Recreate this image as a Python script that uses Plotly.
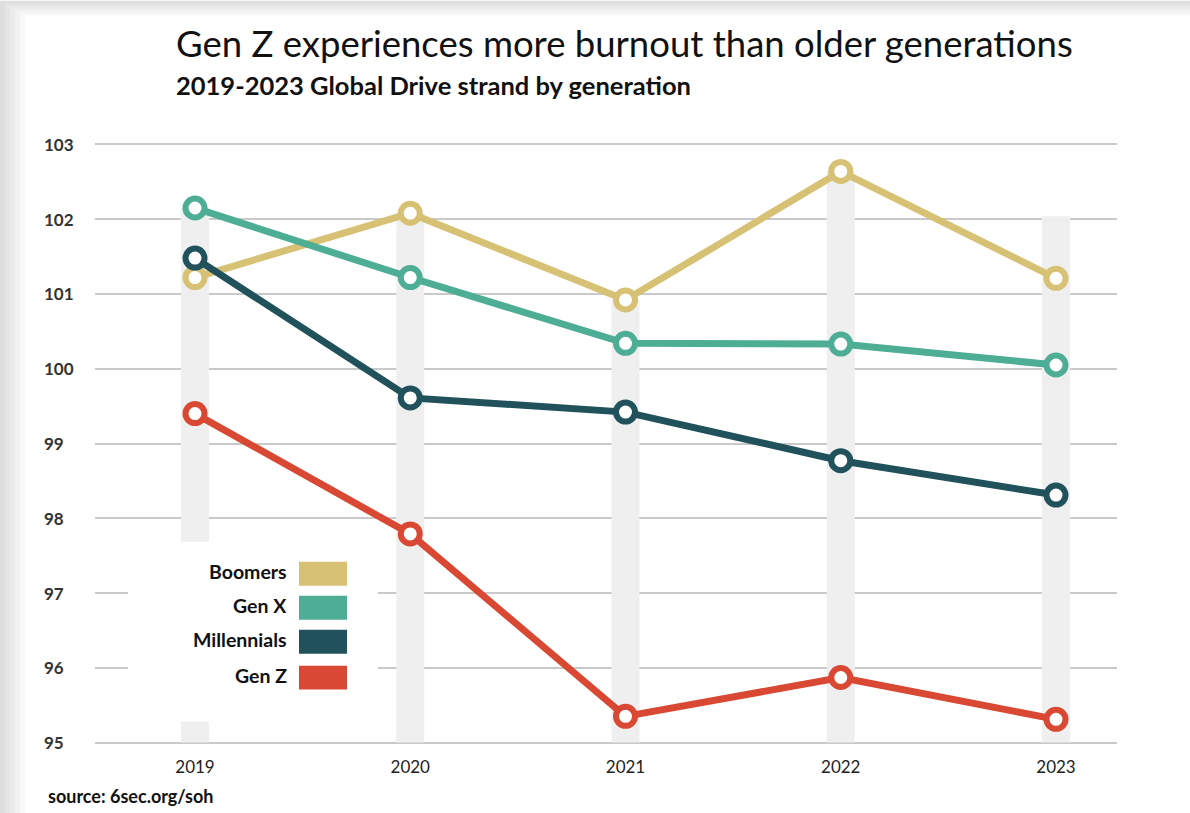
import plotly.graph_objects as go

years = [2019, 2020, 2021, 2022, 2023]
series_names = ["Boomers", "Gen X", "Millennials", "Gen Z"]
boomers = [101.22, 102.08, 100.92, 102.64, 101.21]
gen_x = [102.15, 101.22, 100.34, 100.33, 100.05]
millennials = [101.48, 99.61, 99.42, 98.77, 98.31]
gen_z = [99.40, 97.79, 95.35, 95.87, 95.31]
band_top = [102.15, 102.08, 100.92, 102.64, 102.04]
band_base = [95, 95, 95, 95, 95]
y_ticks = [95, 96, 97, 98, 99, 100, 101, 102, 103]
colors = ["#d7c174", "#4ead95", "#21525c", "#d84832"]

W, H = 1190, 813
Y_LO, Y_HI = 94.9, 103.1
k = (743 - 144) / 8.0
T = 144 - (Y_HI - 103) * k
B = H - (743 + (95 - Y_LO) * k)
L, R = 95, 73
pw, ph = W - L - R, H - T - B


def px_x(p):
    return (p - L) / pw


def px_y(p):
    return (H - B - p) / ph


fig = go.Figure()

# background bands
fig.add_trace(go.Bar(
    x=years, y=[t - b for t, b in zip(band_top, band_base)], base=band_base,
    width=0.13, marker=dict(color="#efefef", line=dict(width=0)),
    showlegend=False, hoverinfo="skip"))

for name, vals, c in zip(series_names, [boomers, gen_x, millennials, gen_z], colors):
    fig.add_trace(go.Scatter(
        x=years, y=vals, name=name, mode="lines+markers",
        line=dict(color=c, width=7),
        marker=dict(size=19, color="white", line=dict(color=c, width=6)),
        showlegend=False))

shapes = []
# card shadow edges
shade = ["#dedede", "#e5e5e5", "#ebebeb", "#f2f2f2", "#f8f8f8"]
for i, col in enumerate(shade):
    shapes.append(dict(type="rect", xref="paper", yref="paper", layer="below",
                       x0=px_x(5 * i), x1=px_x(W + 10), y0=px_y(H + 10), y1=px_y(3 * i),
                       fillcolor=col, line=dict(width=0)))
shapes.append(dict(type="rect", xref="paper", yref="paper", layer="below",
                   x0=px_x(25), x1=px_x(W + 10), y0=px_y(H + 10), y1=px_y(15),
                   fillcolor="white", line=dict(width=0)))

# legend box
shapes.append(dict(type="rect", xref="paper", yref="paper", layer="above",
                   x0=px_x(128), x1=px_x(378), y0=px_y(722), y1=px_y(542),
                   fillcolor="white", line=dict(width=0)))
rows_y = [574, 608, 642, 678]
annotations = []
for name, c, ry in zip(series_names, colors, rows_y):
    shapes.append(dict(type="rect", xref="paper", yref="paper", layer="above",
                       x0=px_x(299), x1=px_x(347), y0=px_y(ry + 12), y1=px_y(ry - 12),
                       fillcolor=c, line=dict(width=0)))
    annotations.append(dict(text=name, xref="paper", yref="paper", x=px_x(289), y=px_y(ry - 2),
                            xanchor="right", yanchor="middle", showarrow=False,
                            font=dict(family="Lato", size=19.5, color="#111", weight="bold")))

for v in y_ticks:
    annotations.append(dict(text=str(v), xref="paper", yref="y", x=px_x(42), y=v,
                            xanchor="left", yanchor="middle", showarrow=False,
                            font=dict(family="Lato", size=17, color="#333", weight="bold")))

annotations.append(dict(text="Gen Z experiences more burnout than older generations",
                        xref="paper", yref="paper", x=px_x(174), y=px_y(42),
                        xanchor="left", yanchor="middle", showarrow=False,
                        font=dict(family="Lato", size=36.5, color="#111")))
annotations.append(dict(text="2019-2023 Global Drive strand by generation",
                        xref="paper", yref="paper", x=px_x(174), y=px_y(84),
                        xanchor="left", yanchor="middle", showarrow=False,
                        font=dict(family="Lato", size=25.5, color="#111", weight="bold")))
annotations.append(dict(text="source: 6sec.org/soh",
                        xref="paper", yref="paper", x=px_x(46), y=px_y(797),
                        xanchor="left", yanchor="middle", showarrow=False,
                        font=dict(family="Lato", size=18, color="#111", weight="bold")))

fig.update_layout(
    width=W, height=H,
    margin=dict(l=L, r=R, t=T, b=B),
    paper_bgcolor="white", plot_bgcolor="rgba(0,0,0,0)",
    shapes=shapes, annotations=annotations,
    barmode="overlay",
    xaxis=dict(range=[2018 + 1 - (195 - 95) / 215.25, 2023 + (1117 - 1056) / 215.25],
               tickvals=years, ticktext=[str(y) for y in years],
               showgrid=False, zeroline=False, showline=False, ticks="",
               ticklabelstandoff=int(round(12 - (95 - Y_LO) * k)),
               tickfont=dict(family="Lato", size=17, color="#222")),
    yaxis=dict(range=[Y_LO, Y_HI], tickvals=y_ticks, showticklabels=False,
               showgrid=True, gridcolor="#c9c9c9", gridwidth=2,
               zeroline=False, showline=False, ticks=""),
)

fig.write_html("out.html", config={"displayModeBar": False},
               post_script="document.body.style.margin='0';")
